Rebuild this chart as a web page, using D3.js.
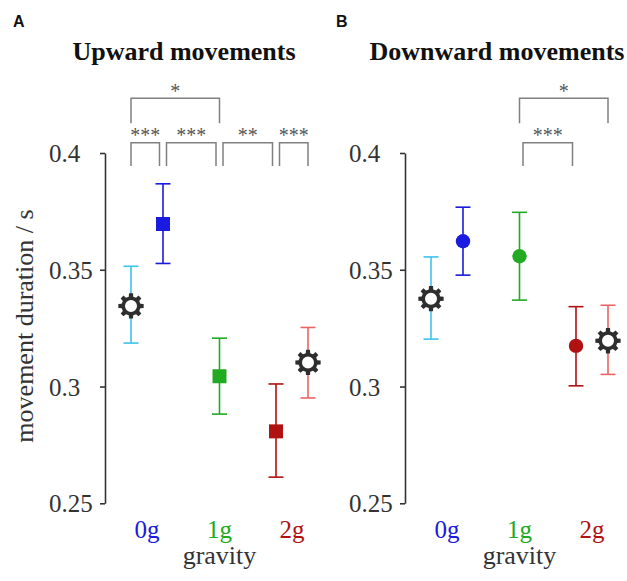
<!DOCTYPE html>
<html>
<head>
<meta charset="utf-8">
<script src="https://cdn.jsdelivr.net/npm/d3@7"></script>
<style>
  html, body { margin: 0; padding: 0; background: #fff; }
  svg { display: block; }
</style>
</head>
<body>
<div id="chart"></div>
<script>
// ---------- data ----------
const categories = ["0g", "1g", "2g"];
const categoryColors = ["#1a1ae0", "#22aa22", "#b01212"];

// five conditions per panel (grouped by gravity)
const pointGroup  = ["0g", "0g", "1g", "2g", "2g"];
const pointMarker = ["gear", "data", "data", "data", "gear"];
const pointColors = ["#3ec3ec", "#1a1ae0", "#22aa22", "#b01212", "#ea6464"];

const upMean = [0.3345, 0.3696, 0.3044, 0.2808, 0.3103];
const upLow  = [0.3186, 0.3527, 0.2882, 0.2612, 0.2951];
const upHigh = [0.3515, 0.3868, 0.3207, 0.3011, 0.3253];

const downMean = [0.3376, 0.3622, 0.3558, 0.3174, 0.3196];
const downLow  = [0.3203, 0.3477, 0.3370, 0.3003, 0.3052];
const downHigh = [0.3555, 0.3768, 0.3746, 0.3342, 0.3348];

const yTicks = [0.25, 0.3, 0.35, 0.4];

const upSigFrom   = [0, 1, 2, 3, 0];
const upSigTo     = [1, 2, 3, 4, 2];
const upSigLabel  = ["***", "***", "**", "***", "*"];
const upSigLevel  = [0, 0, 0, 0, 1];

const downSigFrom  = [2, 2];
const downSigTo    = [3, 4];
const downSigLabel = ["***", "*"];
const downSigLevel = [0, 1];

// ---------- layout ----------
const W = 627, H = 581;
const svg = d3.select("#chart").append("svg").attr("width", W).attr("height", H);
const serif = "'Liberation Serif', 'Times New Roman', serif";

const y = d3.scaleLinear().domain([0.25, 0.4]).range([503.3, 153]);

function gearPath(R, r, hole, teeth) {
  const p = d3.path();
  const step = 2 * Math.PI / teeth;
  const tipHalf = step * 0.2, baseHalf = step * 0.3;
  let first = true;
  for (let i = 0; i < teeth; i++) {
    const c = i * step - Math.PI / 2;
    const pts = [
      [c - baseHalf, r], [c - tipHalf, R], [c + tipHalf, R], [c + baseHalf, r]
    ];
    pts.forEach(([a, rad]) => {
      const px = Math.cos(a) * rad, py = Math.sin(a) * rad;
      if (first) { p.moveTo(px, py); first = false; } else p.lineTo(px, py);
    });
  }
  p.closePath();
  p.moveTo(hole, 0);
  p.arc(0, 0, hole, 0, 2 * Math.PI);
  p.closePath();
  return p.toString();
}
const GEAR = gearPath(12.8, 9.6, 6.0, 8);

function panel(opt) {
  const x0 = opt.axisX;
  const g = svg.append("g");
  const xc = d3.scalePoint().domain(categories).range([x0 + 42, x0 + 187]);
  const off = 16;
  // x position for each point: spread within group
  const px = pointGroup.map((grp, i) => {
    const members = pointGroup.map((v, j) => v === grp ? j : -1).filter(j => j >= 0);
    if (members.length === 1) return xc(grp);
    const k = members.indexOf(i);
    return xc(grp) + (k === 0 ? -off : off);
  });

  // axis
  const axis = d3.axisLeft(y).tickValues(yTicks).tickSize(5).tickSizeOuter(0)
    .tickFormat(d3.format(""));
  const ax = g.append("g").attr("transform", `translate(${x0},0)`).call(axis);
  ax.select(".domain").attr("stroke", "#333").attr("stroke-width", 1.6);
  ax.selectAll(".tick line").attr("stroke", "#333").attr("stroke-width", 1.6);
  ax.selectAll(".tick text")
    .attr("font-family", serif).attr("font-size", 25).attr("fill", "#333")
    .attr("text-anchor", "start").attr("x", -56).attr("dy", "0.34em");

  // error bars
  const cap = 7.5;
  const eb = g.append("g");
  opt.mean.forEach((m, i) => {
    const c = pointColors[i];
    eb.append("line").attr("x1", px[i]).attr("x2", px[i])
      .attr("y1", y(opt.low[i])).attr("y2", y(opt.high[i]))
      .attr("stroke", c).attr("stroke-width", 1.6);
    [opt.low[i], opt.high[i]].forEach(v => {
      eb.append("line").attr("x1", px[i] - cap).attr("x2", px[i] + cap)
        .attr("y1", y(v)).attr("y2", y(v)).attr("stroke", c).attr("stroke-width", 1.6);
    });
  });
  // markers
  opt.mean.forEach((m, i) => {
    if (pointMarker[i] === "gear") {
      g.append("circle").attr("cx", px[i]).attr("cy", y(m)).attr("r", 6.5).attr("fill", "#fff");
      g.append("path").attr("d", GEAR).attr("fill", "#2e2e2e").attr("fill-rule", "evenodd")
        .attr("transform", `translate(${px[i]},${y(m)})`);
    } else if (opt.shape === "square") {
      g.append("rect").attr("x", px[i] - 7).attr("y", y(m) - 7).attr("width", 14).attr("height", 14)
        .attr("fill", pointColors[i]);
    } else {
      g.append("circle").attr("cx", px[i]).attr("cy", y(m)).attr("r", 7.2).attr("fill", pointColors[i]);
    }
  });

  // significance brackets
  const levelTop = [142.7, 98.3], levelLeg = [166, 123.3];
  opt.sigFrom.forEach((a, k) => {
    const b = opt.sigTo[k], lv = opt.sigLevel[k];
    const gap = lv === 0 ? 3.5 : 0;
    const xa = px[a] + (a === 0 ? 0 : gap);
    const xb = px[b] - (b === pointGroup.length - 1 ? 0 : gap);
    g.append("path")
      .attr("d", `M${xa},${levelLeg[lv]}V${levelTop[lv]}H${xb}V${levelLeg[lv]}`)
      .attr("fill", "none").attr("stroke", "#808080").attr("stroke-width", 1.5);
    g.append("text").attr("x", (xa + xb) / 2).attr("y", levelTop[lv] - 0.5)
      .attr("text-anchor", "middle").attr("font-family", serif).attr("font-size", 20)
      .attr("fill", "#555").text(opt.sigLabel[k]);
  });

  // category labels
  categories.forEach((c, i) => {
    g.append("text").attr("x", xc(c)).attr("y", 538).attr("text-anchor", "middle")
      .attr("font-family", serif).attr("font-size", 25).attr("fill", categoryColors[i]).text(c);
  });
  g.append("text").attr("x", xc("1g")).attr("y", 564).attr("text-anchor", "middle")
    .attr("font-family", serif).attr("font-size", 26).attr("fill", "#333").text("gravity");

  // title and letter
  g.append("text").attr("x", opt.titleX).attr("y", 60).attr("text-anchor", "middle")
    .attr("font-family", serif).attr("font-size", 26).attr("font-weight", "bold")
    .attr("fill", "#111").text(opt.title);
  g.append("text").attr("x", opt.letterX).attr("y", 27).attr("font-family", "'Liberation Sans', Arial, sans-serif")
    .attr("font-size", 16).attr("font-weight", "bold").attr("fill", "#111").text(opt.letter);
}

panel({ axisX: 105, mean: upMean, low: upLow, high: upHigh, shape: "square",
  sigFrom: upSigFrom, sigTo: upSigTo, sigLabel: upSigLabel, sigLevel: upSigLevel,
  title: "Upward movements", titleX: 184, letter: "A", letterX: 13 });
panel({ axisX: 405, mean: downMean, low: downLow, high: downHigh, shape: "circle",
  sigFrom: downSigFrom, sigTo: downSigTo, sigLabel: downSigLabel, sigLevel: downSigLevel,
  title: "Downward movements", titleX: 497, letter: "B", letterX: 336 });

svg.append("text").attr("transform", "translate(33,326) rotate(-90)")
  .attr("text-anchor", "middle").attr("font-family", serif).attr("font-size", 26)
  .attr("fill", "#333").text("movement duration / s");
</script>
</body>
</html>
